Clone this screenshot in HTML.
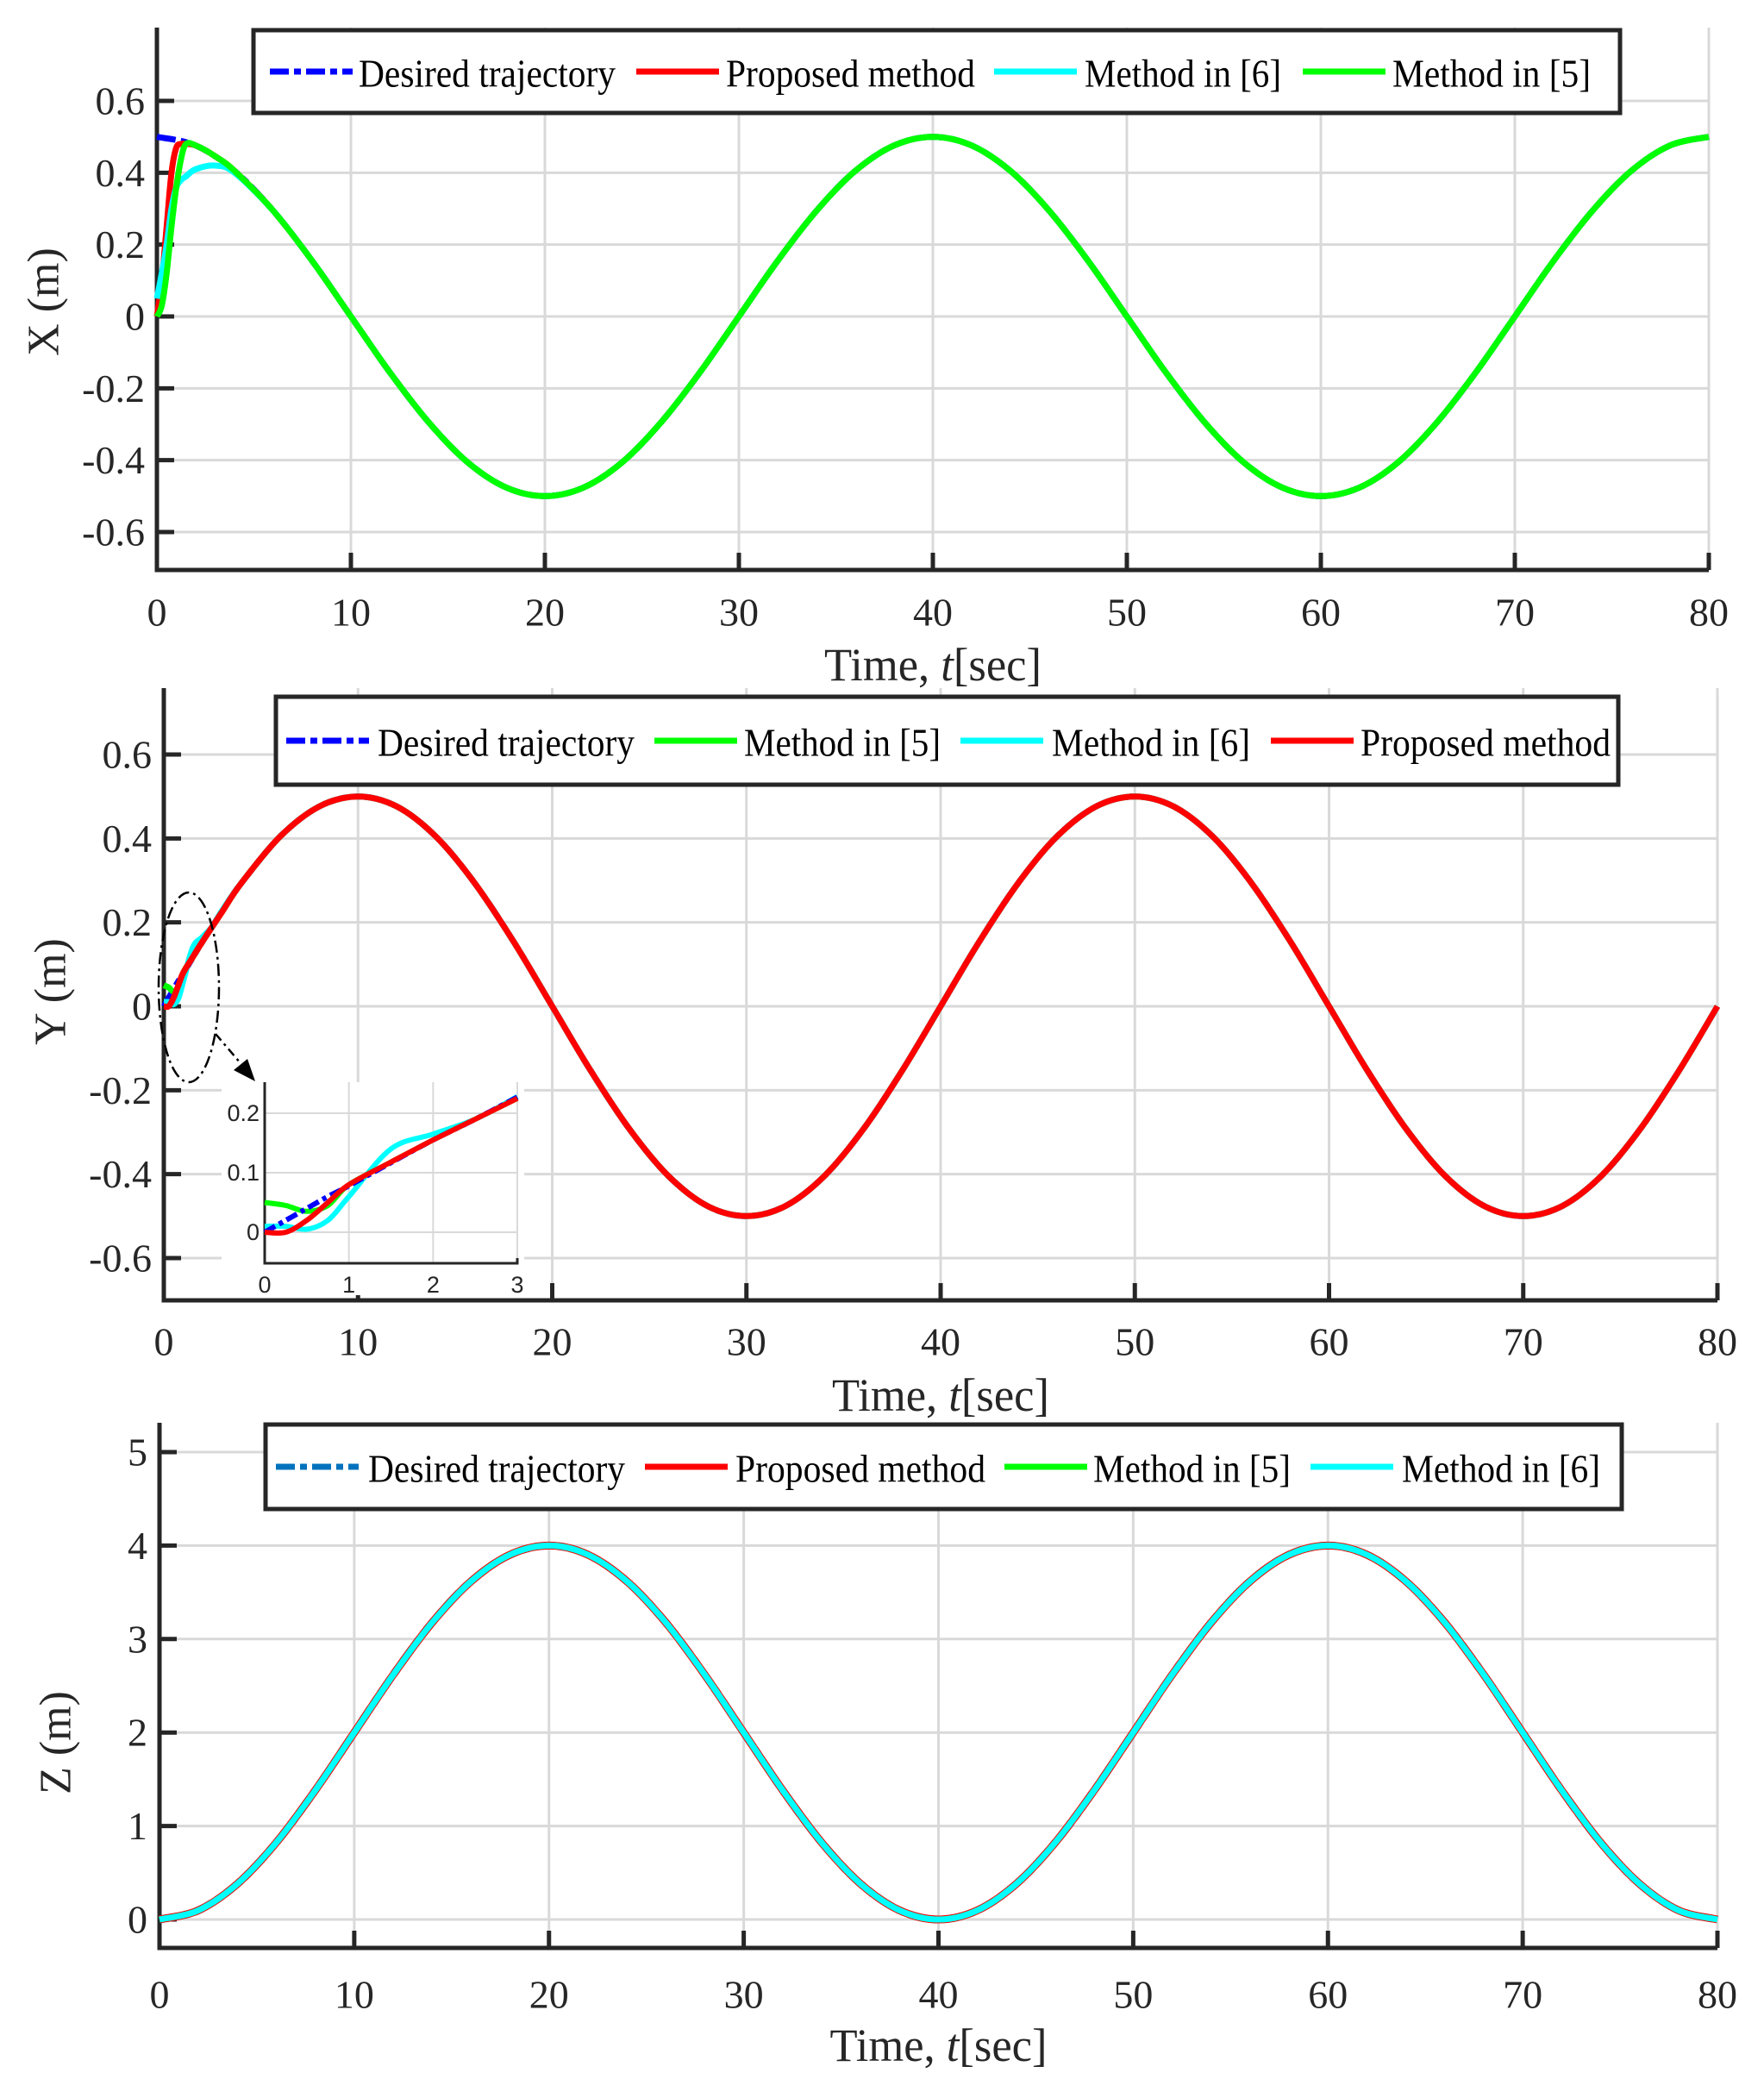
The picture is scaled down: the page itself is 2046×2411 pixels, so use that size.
<!DOCTYPE html>
<html><head><meta charset="utf-8"><style>
html,body{margin:0;padding:0;background:#fff;}
svg{display:block;font-family:"Liberation Serif",serif;}
</style></head><body>
<svg id="fig" width="2046" height="2411" viewBox="0 0 2046 2411" xmlns="http://www.w3.org/2000/svg"></svg>
<script>
// ---------- DATA ----------
const tCoarse = [0,2,4,6,8,10,12,14,16,18,20,22,24,26,28,30,32,34,36,38,40,42,44,46,48,50,52,54,56,58,60,62,64,66,68,70,72,74,76,78,80];
const xDesired = [0.5,0.476,0.405,0.294,0.155,0,-0.155,-0.294,-0.405,-0.476,-0.5,-0.476,-0.405,-0.294,-0.155,0,0.155,0.294,0.405,0.476,0.5,0.476,0.405,0.294,0.155,0,-0.155,-0.294,-0.405,-0.476,-0.5,-0.476,-0.405,-0.294,-0.155,0,0.155,0.294,0.405,0.476,0.5];
const tXTrans = [0,0.25,0.5,0.75,1,1.25,1.5,2,3,4];
const xProposedTrans = [0,0.1,0.25,0.4,0.47,0.48,0.48,0.476,0.446,0.405];
const xM6Trans = [0.05,0.12,0.2,0.3,0.36,0.38,0.39,0.41,0.42,0.40];
const xM5Trans = [0,0.03,0.12,0.25,0.36,0.44,0.48,0.476,0.446,0.405];
const yDesired = [0,0.155,0.294,0.405,0.476,0.5,0.476,0.405,0.294,0.155,0,-0.155,-0.294,-0.405,-0.476,-0.5,-0.476,-0.405,-0.294,-0.155,0,0.155,0.294,0.405,0.476,0.5,0.476,0.405,0.294,0.155,0,-0.155,-0.294,-0.405,-0.476,-0.5,-0.476,-0.405,-0.294,-0.155,0];
const tYTrans = [0,0.25,0.5,0.75,1,1.5,2,2.5,3];
const yDesiredTrans = [0,0.02,0.04,0.06,0.078,0.117,0.155,0.19,0.227];
const yProposedTrans = [0,0.0,0.02,0.05,0.08,0.118,0.155,0.19,0.225];
const yM5Trans = [0.05,0.045,0.035,0.045,0.08,0.118,0.155,0.19,0.225];
const yM6Trans = [0.01,0.01,0.005,0.02,0.06,0.14,0.165,0.19,0.228];
const zDesired = [0,0.098,0.382,0.824,1.382,2,2.618,3.176,3.618,3.902,4,3.902,3.618,3.176,2.618,2,1.382,0.824,0.382,0.098,0,0.098,0.382,0.824,1.382,2,2.618,3.176,3.618,3.902,4,3.902,3.618,3.176,2.618,2,1.382,0.824,0.382,0.098,0];
const xTicks = [0,10,20,30,40,50,60,70,80];
const xyTicks = [-0.6,-0.4,-0.2,0,0.2,0.4,0.6];
const zTicks = [0,1,2,3,4,5];
const insetXTicks = [0,1,2,3];
const insetYTicks = [0,0.1,0.2];

const NS = "http://www.w3.org/2000/svg";
const svg = document.getElementById('fig');
function mk(tag, attrs, parent){ const e=document.createElementNS(NS,tag); for(const k in attrs) e.setAttribute(k,attrs[k]); (parent||svg).appendChild(e); return e; }
function fmt(v){ return v===0?'0':(Math.round(v*10)/10).toString(); }

function merge(tT, vT, tC, vC, tMax){
  const pts=[]; for(let i=0;i<tT.length;i++) pts.push([tT[i],vT[i]]);
  for(let i=0;i<tC.length;i++) if(tC[i]>tMax) pts.push([tC[i],vC[i]]);
  return pts;
}
function pathFrom(pts, sx, sy){
  const p=pts.map(q=>[sx(q[0]),sy(q[1])]);
  let d='M'+p[0][0].toFixed(1)+','+p[0][1].toFixed(1);
  for(let i=0;i<p.length-1;i++){
    const p0=p[Math.max(0,i-1)],p1=p[i],p2=p[i+1],p3=p[Math.min(p.length-1,i+2)];
    const c1=[p1[0]+(p2[0]-p0[0])/6,p1[1]+(p2[1]-p0[1])/6];
    const c2=[p2[0]-(p3[0]-p1[0])/6,p2[1]-(p3[1]-p1[1])/6];
    d+=' C'+c1[0].toFixed(1)+','+c1[1].toFixed(1)+' '+c2[0].toFixed(1)+','+c2[1].toFixed(1)+' '+p2[0].toFixed(1)+','+p2[1].toFixed(1);
  }
  return d;
}

function axes(g, L, R, T, B, sx, sy, yt, ylab, ylabX, ylabY, tickLy, titleY, fs){
  xTicks.forEach(v=>{ const l=mk('line',{x1:sx(v),x2:sx(v),y1:T,y2:B,stroke:'#d9d9d9','stroke-width':3},g);
      });
  yt.forEach(v=>{ const l=mk('line',{x1:L,x2:R,y1:sy(v),y2:sy(v),stroke:'#d9d9d9','stroke-width':3},g);
      });
  const ax=mk('path',{d:`M${L},${T} L${L},${B} L${R},${B}`,fill:'none',stroke:'#262626','stroke-width':5},g);
   
  xTicks.forEach(v=>{ const t=mk('line',{x1:sx(v),x2:sx(v),y1:B,y2:B-20,stroke:'#262626','stroke-width':5},g);
     
    const tx=mk('text',{x:sx(v),y:tickLy,'font-size':fs,'text-anchor':'middle','dominant-baseline':'central',fill:'#262626'},g);
    tx.textContent=String(v);
      });
  yt.forEach(v=>{ const t=mk('line',{x1:L,x2:L+20,y1:sy(v),y2:sy(v),stroke:'#262626','stroke-width':5},g);
     
    const tx=mk('text',{x:L-14,y:sy(v),'font-size':fs,'text-anchor':'end','dominant-baseline':'central',fill:'#262626'},g);
    tx.textContent=fmt(v);
      });
  const yl=mk('text',{x:ylabX,y:ylabY,'font-size':52,'text-anchor':'middle','dominant-baseline':'central',fill:'#262626',transform:`rotate(-90 ${ylabX} ${ylabY})`},g);
  yl.textContent=ylab;
   
  const xl=mk('text',{x:(L+R)/2,y:titleY,'font-size':54,'text-anchor':'middle','dominant-baseline':'central',fill:'#262626',textLength:252,lengthAdjust:'spacingAndGlyphs'},g);
  xl.innerHTML='Time, <tspan font-style="italic">t</tspan>[sec]';
   
}

function legend(g, x0,y0,x1,y1, entries){
  const r=mk('rect',{x:x0,y:y0,width:x1-x0,height:y1-y0,fill:'#fff',stroke:'#262626','stroke-width':5},g);
   
  const cy=(y0+y1)/2;
  entries.forEach(e=>{
    const eg=mk('g',{},g);
     
    mk('line',{x1:e.lx,x2:e.lx+96,y1:cy,y2:cy,stroke:e.c,'stroke-width':7,'stroke-dasharray':e.dash?'22,6,8,6':'none'},eg);
    const t=mk('text',{x:e.tx,y:cy+2,'font-size':46,'dominant-baseline':'central',fill:'#000',textLength:e.tw,lengthAdjust:'spacingAndGlyphs'},eg);
    t.textContent=e.label;
  });
}

const BLUE='#0000ff', RED='#ff0000', CYAN='#00ffff', GREEN='#00ff00', ZBLUE='#0072bd';
const LW=7;

// ---------- PANEL 1 (X) ----------
{
  const L=182,R=1982,T=32,B=661;
  const sx=t=>L+(t/80)*(R-L);
  const sy=v=>367-v*(250/0.6);
  const g=mk('g',{});  
  axes(g,L,R,T,B,sx,sy,xyTicks,'X (m)',51,350,710,771,46);
  const series=[
    {n:'desired-x-line',pts:merge([],[],tCoarse,xDesired,-1),c:BLUE,dash:true},
    {n:'proposed-x-line',pts:merge(tXTrans,xProposedTrans,tCoarse,xDesired,4),c:RED},
    {n:'method6-x-line',pts:merge(tXTrans,xM6Trans,tCoarse,xDesired,4),c:CYAN},
    {n:'method5-x-line',pts:merge(tXTrans,xM5Trans,tCoarse,xDesired,4),c:GREEN},
  ];
  series.forEach(s=>{ const p=mk('path',{d:pathFrom(s.pts,sx,sy),fill:'none',stroke:s.c,'stroke-width':LW,'stroke-dasharray':s.dash?'22,6,8,6':'none'},g);
      });
  legend(g,294,35,1879,131,[
    {lx:313,tx:416,tw:298,label:'Desired trajectory',c:BLUE,dash:true},
    {lx:738,tx:842,tw:289,label:'Proposed method',c:RED},
    {lx:1153,tx:1258,tw:228,label:'Method in [6]',c:CYAN},
    {lx:1511,tx:1615,tw:230,label:'Method in [5]',c:GREEN},
  ]);
}

// ---------- PANEL 2 (Y) ----------
{
  const L=190,R=1992,T=798,B=1508;
  const sx=t=>L+(t/80)*(R-L);
  const sy=v=>1167-v*(292/0.6);
  const g=mk('g',{});  
  axes(g,L,R,T,B,sx,sy,xyTicks,'Y (m)',59,1150,1556,1618,46);
  const series=[
    {n:'desired-y-line',pts:merge(tYTrans,yDesiredTrans,tCoarse,yDesired,3),c:BLUE,dash:true},
    {n:'method5-y-line',pts:merge(tYTrans,yM5Trans,tCoarse,yDesired,3),c:GREEN},
    {n:'method6-y-line',pts:merge(tYTrans,yM6Trans,tCoarse,yDesired,3),c:CYAN},
    {n:'proposed-y-line',pts:merge(tYTrans,yProposedTrans,tCoarse,yDesired,3),c:RED},
  ];
  series.forEach(s=>{ const p=mk('path',{d:pathFrom(s.pts,sx,sy),fill:'none',stroke:s.c,'stroke-width':LW,'stroke-dasharray':s.dash?'22,6,8,6':'none'},g);
      });
  legend(g,320,808,1877,910,[
    {lx:332,tx:438,tw:298,label:'Desired trajectory',c:BLUE,dash:true},
    {lx:759,tx:863,tw:228,label:'Method in [5]',c:GREEN},
    {lx:1114,tx:1220,tw:230,label:'Method in [6]',c:CYAN},
    {lx:1474,tx:1578,tw:290,label:'Proposed method',c:RED},
  ]);
  const el=mk('ellipse',{cx:219,cy:1145,rx:35,ry:110,fill:'none',stroke:'#000','stroke-width':2.5,'stroke-dasharray':'14,5,3,5'},g);
   
  const ar=mk('line',{x1:250,y1:1199,x2:285,y2:1240,stroke:'#000','stroke-width':2.5,'stroke-dasharray':'10,5,3,5'},g);
   
  const ah=mk('polygon',{points:'296,1254 271,1241 287,1228',fill:'#000'},g);
   
  // inset
  const IL=307,IR=600,IT=1255,IB=1465;
  const ix=t=>IL+(t/3)*(IR-IL);
  const iy=v=>1429-v*690;
  const ig=mk('g',{},g);  
  const bg=mk('rect',{x:IL-50,y:IT,width:IR-IL+58,height:IB-IT+37,fill:'#fff'},ig);
   
  insetXTicks.forEach(v=>{ const l=mk('line',{x1:ix(v),x2:ix(v),y1:IT,y2:IB,stroke:'#d9d9d9','stroke-width':2},ig);
     
    const tx=mk('text',{x:ix(v),y:IB+25,'font-size':27,'font-family':'Liberation Sans, sans-serif','text-anchor':'middle','dominant-baseline':'central',fill:'#262626'},ig);
    tx.textContent=String(v);
      });
  insetYTicks.forEach(v=>{ const l=mk('line',{x1:IL,x2:IR,y1:iy(v),y2:iy(v),stroke:'#d9d9d9','stroke-width':2},ig);
     
    const tx=mk('text',{x:IL-6,y:iy(v),'font-size':27,'font-family':'Liberation Sans, sans-serif','text-anchor':'end','dominant-baseline':'central',fill:'#262626'},ig);
    tx.textContent=fmt(v);
      });
  const iax=mk('path',{d:`M${IL},${IT} L${IL},${IB} L${IR},${IB} L${IR},${IB-6}`,fill:'none',stroke:'#262626','stroke-width':3},ig);
   
  const iser=[
    {n:'inset-method6-line',v:yM6Trans,c:CYAN},
    {n:'inset-method5-line',v:yM5Trans,c:GREEN},
    {n:'inset-desired-line',v:yDesiredTrans,c:BLUE,dash:true},
    {n:'inset-proposed-line',v:yProposedTrans,c:RED},
  ];
  iser.forEach(s=>{ const pts=tYTrans.map((t,i)=>[t,s.v[i]]);
    const p=mk('path',{d:pathFrom(pts,ix,iy),fill:'none',stroke:s.c,'stroke-width':6,'stroke-dasharray':s.dash?'14,5,5,5':'none'},ig);
      });
}

// ---------- PANEL 3 (Z) ----------
{
  const L=185,R=1992,T=1650,B=2259;
  const sx=t=>L+(t/80)*(R-L);
  const sy=v=>2226-v*108.4;
  const g=mk('g',{});  
  axes(g,L,R,T,B,sx,sy,zTicks,'Z (m)',65,2021,2313,2372,46);
  const pts=merge([],[],tCoarse,zDesired,-1);
  const series=[
    {n:'desired-z-line',c:ZBLUE,w:9,dash:true},
    {n:'proposed-z-line',c:RED,w:9},
    {n:'method5-z-line',c:GREEN,w:7},
    {n:'method6-z-line',c:CYAN,w:7},
  ];
  series.forEach(s=>{ const p=mk('path',{d:pathFrom(pts,sx,sy),fill:'none',stroke:s.c,'stroke-width':s.w,'stroke-dasharray':s.dash?'22,6,8,6':'none'},g);
      });
  legend(g,308,1652,1881,1750,[
    {lx:320,tx:427,tw:298,label:'Desired trajectory',c:ZBLUE,dash:true},
    {lx:748,tx:853,tw:290,label:'Proposed method',c:RED},
    {lx:1165,tx:1268,tw:229,label:'Method in [5]',c:GREEN},
    {lx:1520,tx:1626,tw:230,label:'Method in [6]',c:CYAN},
  ]);
}
</script>
</body></html>
